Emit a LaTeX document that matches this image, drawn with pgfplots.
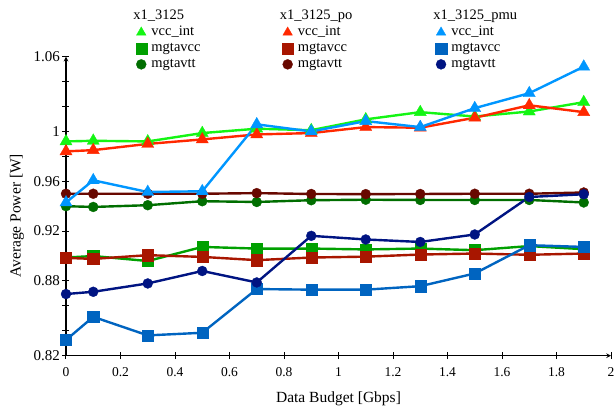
\documentclass[border=0pt]{standalone}
\usepackage{pgfplots}
\pgfplotsset{compat=1.18}
\usepackage{fontspec}
\setmainfont{Liberation Serif}
\definecolor{gA}{RGB}{20,245,20}
\definecolor{gB}{RGB}{0,160,0}
\definecolor{gC}{RGB}{0,110,0}
\definecolor{rA}{RGB}{255,40,0}
\definecolor{rB}{RGB}{168,22,0}
\definecolor{rC}{RGB}{104,8,0}
\definecolor{bA}{RGB}{0,150,255}
\definecolor{bB}{RGB}{0,100,192}
\definecolor{bC}{RGB}{0,20,130}
\begin{document}
\begin{tikzpicture}
\begin{axis}[
  scale only axis, width=545pt, height=299pt,
  xmin=0, xmax=2, ymin=0.82, ymax=1.06,
  axis lines=left,
  axis line style={line width=1.1pt, -stealth},
  tick align=center, major tick length=7pt,
  tick style={line width=1pt, black},
  xtick={0,0.2,...,2.01},
  xticklabels={0,0.2,0.4,0.6,0.8,1,1.2,1.4,1.6,1.8,2},
  ytick={0.82,0.84,0.86,0.88,0.90,0.92,0.94,0.96,0.98,1.0,1.02,1.04,1.06},
  yticklabels={0.82,,,0.88,,0.92,,0.96,,1,,,1.06},
  /pgf/number format/assume math mode=true,
  x tick label style={font=\fontsize{13.5}{14}\selectfont, yshift=-5pt},
  y tick label style={font=\fontsize{15}{15}\selectfont, xshift=1pt},
  xlabel={Data Budget [Gbps]}, ylabel={Average Power [W]},
  label style={font=\fontsize{15.5}{16}\selectfont},
  xlabel style={yshift=-8pt},
  ylabel style={at={(axis description cs:-0.09,0.468)}, anchor=center},
  every axis plot/.append style={line width=2.4pt, mark options={solid, line width=0.3pt}},
  legend columns=3,
  legend cell align=left,
  legend style={draw=none, fill=none, at={(0.119,1.169)}, anchor=north west,
    font=\fontsize{14.5}{15}\selectfont,
    nodes={inner ysep=1.0pt, text height=10.5pt, text depth=3.5pt}},
  legend image code/.code={\path (0pt,0pt) (13pt,0pt); \draw[#1] plot coordinates {(6pt,0pt)};},
]
\coordinate (bl) at (rel axis cs:0,0);
\coordinate (tr) at (rel axis cs:1,1);
% x1_3125
\addplot[gA, mark=triangle*, mark size=7, forget plot] coordinates {
(0,0.992)(0.1,0.9925)(0.3,0.992)(0.5,0.9987)(0.7,1.0022)(0.9,1.001)(1.1,1.0097)(1.3,1.0155)(1.5,1.012)(1.7,1.016)(1.9,1.0235)};
\addplot[gB, mark=square*, mark size=5.6, forget plot] coordinates {
(0,0.8988)(0.1,0.900)(0.3,0.896)(0.5,0.9073)(0.7,0.906)(0.9,0.906)(1.1,0.9053)(1.3,0.906)(1.5,0.9047)(1.7,0.908)(1.9,0.9055)};
\addplot[gC, mark=*, mark size=5, forget plot] coordinates {
(0,0.940)(0.1,0.9394)(0.3,0.9408)(0.5,0.944)(0.7,0.9434)(0.9,0.9448)(1.1,0.9452)(1.3,0.945)(1.5,0.945)(1.7,0.945)(1.9,0.943)};
% x1_3125_po
\addplot[rA, mark=triangle*, mark size=7, forget plot] coordinates {
(0,0.984)(0.1,0.985)(0.3,0.990)(0.5,0.9936)(0.7,0.9976)(0.9,0.9987)(1.1,1.0035)(1.3,1.003)(1.5,1.011)(1.7,1.021)(1.9,1.0155)};
\addplot[rB, mark=square*, mark size=5.6, forget plot] coordinates {
(0,0.8985)(0.1,0.8977)(0.3,0.9007)(0.5,0.8993)(0.7,0.8967)(0.9,0.8988)(1.1,0.8995)(1.3,0.9012)(1.5,0.902)(1.7,0.901)(1.9,0.902)};
\addplot[rC, mark=*, mark size=5, forget plot] coordinates {
(0,0.950)(0.1,0.950)(0.3,0.950)(0.5,0.950)(0.7,0.9505)(0.9,0.9498)(1.1,0.9497)(1.3,0.9498)(1.5,0.950)(1.7,0.950)(1.9,0.951)};
% x1_3125_pmu
\addplot[bA, mark=triangle*, mark size=7, forget plot] coordinates {
(0,0.943)(0.1,0.9608)(0.3,0.9514)(0.5,0.952)(0.7,1.0057)(0.9,1.000)(1.1,1.0083)(1.3,1.0035)(1.5,1.0187)(1.7,1.0307)(1.9,1.052)};
\addplot[bB, mark=square*, mark size=5.6, forget plot] coordinates {
(0,0.8326)(0.1,0.8512)(0.3,0.8363)(0.5,0.8384)(0.7,0.8735)(0.9,0.873)(1.1,0.873)(1.3,0.8758)(1.5,0.886)(1.7,0.9087)(1.9,0.9073)};
\addplot[bC, mark=*, mark size=5, forget plot] coordinates {
(0,0.8695)(0.1,0.8713)(0.3,0.878)(0.5,0.888)(0.7,0.8788)(0.9,0.9162)(1.1,0.9133)(1.3,0.9113)(1.5,0.9173)(1.7,0.9474)(1.9,0.9496)};
% legend (row-wise)
\addlegendimage{empty legend}\addlegendentry{\makebox[127pt][l]{\hspace*{-18pt}x1\_3125}}
\addlegendimage{empty legend}\addlegendentry{\makebox[134pt][l]{\hspace*{-18pt}x1\_3125\_po}}
\addlegendimage{empty legend}\addlegendentry{\makebox[100pt][l]{\hspace*{-18pt}x1\_3125\_pmu}}
\addlegendimage{only marks, gA, mark=triangle*, mark size=5.5}\addlegendentry{vcc\_int}
\addlegendimage{only marks, rA, mark=triangle*, mark size=5.5}\addlegendentry{vcc\_int}
\addlegendimage{only marks, bA, mark=triangle*, mark size=5.5}\addlegendentry{vcc\_int}
\addlegendimage{only marks, gB, mark=square*, mark size=5.6}\addlegendentry{mgtavcc}
\addlegendimage{only marks, rB, mark=square*, mark size=5.6}\addlegendentry{mgtavcc}
\addlegendimage{only marks, bB, mark=square*, mark size=5.6}\addlegendentry{mgtavcc}
\addlegendimage{only marks, gC, mark=*, mark size=5}\addlegendentry{mgtavtt}
\addlegendimage{only marks, rC, mark=*, mark size=5}\addlegendentry{mgtavtt}
\addlegendimage{only marks, bC, mark=*, mark size=5}\addlegendentry{mgtavtt}
\end{axis}
\pgfresetboundingbox
\path (bl) ++(-66pt,-51.3pt) (tr) ++(5pt,56.7pt);
\end{tikzpicture}
\end{document}
